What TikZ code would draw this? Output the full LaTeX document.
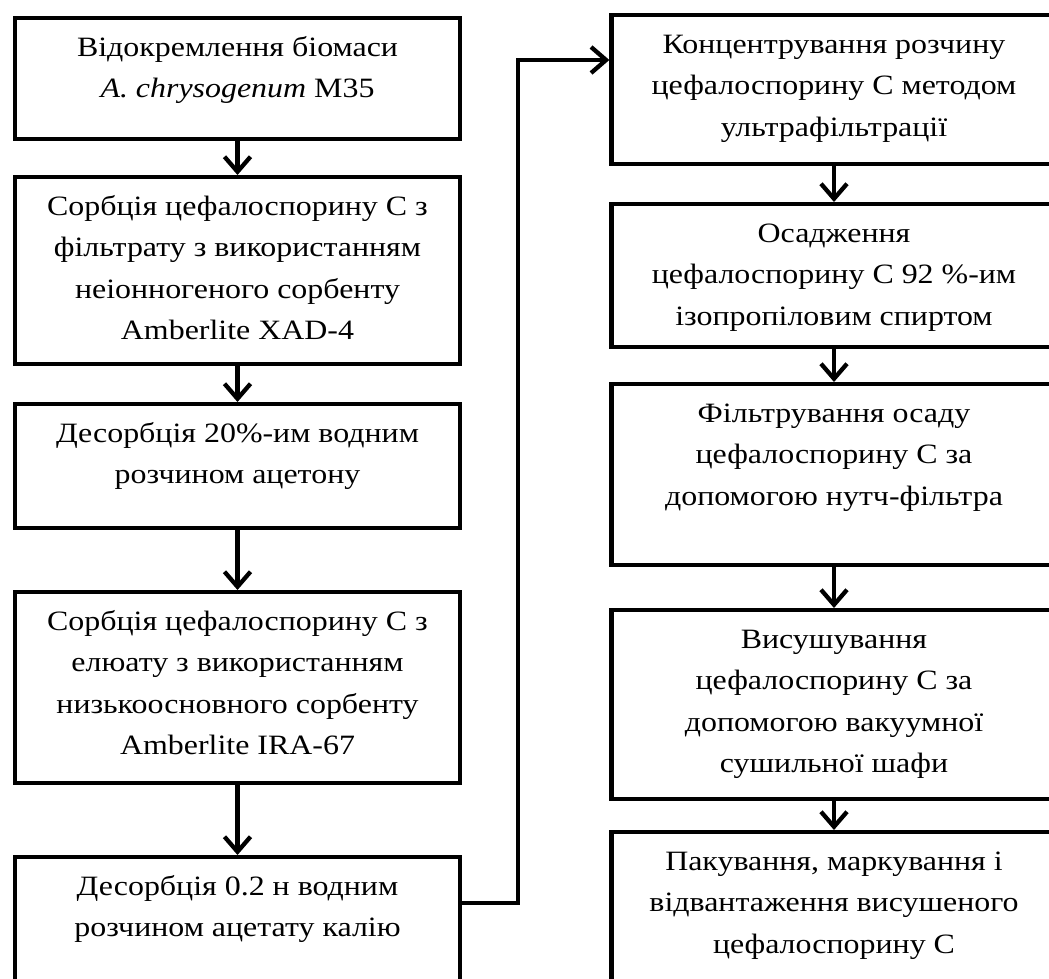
\documentclass[tikz,border=0pt]{standalone}
\usepackage{fontspec}
\setmainfont{Liberation Serif}[FakeStretch=1.14]
\usetikzlibrary{arrows.meta,calc}
\tikzset{
  stepbox/.style={draw,line width=4.3pt,anchor=north,minimum width=445pt,inner xsep=0pt,inner ysep=9pt,
    font=\fontsize{28pt}{41.5pt}\selectfont},
  flow/.style={-{Straight Barb[length=15pt,width=26pt]},line width=4.3pt},
}
\newcommand{\boxtext}[2]{\parbox[t][#1][t]{440pt}{\centering\strut #2}}

\begin{document}
\begin{tikzpicture}[x=1pt,y=-1pt]
  \useasboundingbox (0,0) rectangle (1049,978);
  % --- left column ---
  \node[stepbox] (L1) at (237.5,16) {\boxtext{103pt}{Відокремлення біомаси\\\textit{A. chrysogenum} M35}};
  \node[stepbox] (L2) at (237.5,175) {\boxtext{169pt}{Сорбція цефалоспорину С з\\фільтрату з використанням\\неіонногеного сорбенту\\Amberlite XAD-4}};
  \node[stepbox] (L3) at (237.5,402) {\boxtext{106pt}{Десорбція 20\%-им водним\\розчином ацетону}};
  \node[stepbox] (L4) at (237.5,590) {\boxtext{173pt}{Сорбція цефалоспорину С з\\елюату з використанням\\низькоосновного сорбенту\\Amberlite IRA-67}};
  \node[stepbox] (L5) at (237.5,855) {\boxtext{112pt}{Десорбція 0.2 н водним\\розчином ацетату калію}};
  % --- right column ---
  \node[stepbox] (R1) at (834,13) {\boxtext{131pt}{Концентрування розчину\\цефалоспорину С методом\\ультрафільтрації}};
  \node[stepbox] (R2) at (834,202) {\boxtext{125pt}{Осадження\\цефалоспорину С 92 \%-им\\ізопропіловим спиртом}};
  \node[stepbox] (R3) at (834,382) {\boxtext{163pt}{Фільтрування осаду\\цефалоспорину С за\\допомогою нутч-фільтра}};
  \node[stepbox] (R4) at (834,608) {\boxtext{171pt}{Висушування\\цефалоспорину С за\\допомогою вакуумної\\сушильної шафи}};
  \node[stepbox] (R5) at (834,830) {\boxtext{137pt}{Пакування, маркування і\\відвантаження висушеного\\цефалоспорину С}};
  % --- arrows ---
  \foreach \a/\b in {L1/L2,L2/L3,L3/L4,L4/L5,R1/R2,R2/R3,R3/R4,R4/R5}
    \draw[flow] (\a.south) -- (\b.north);
  \coordinate (jA) at (518,903);
  \coordinate (jB) at (518,60);
  \draw[flow,line join=miter] (L5.east |- jA) -- (jA) -- (jB) -- (jB -| R1.west);
\end{tikzpicture}
\end{document}
